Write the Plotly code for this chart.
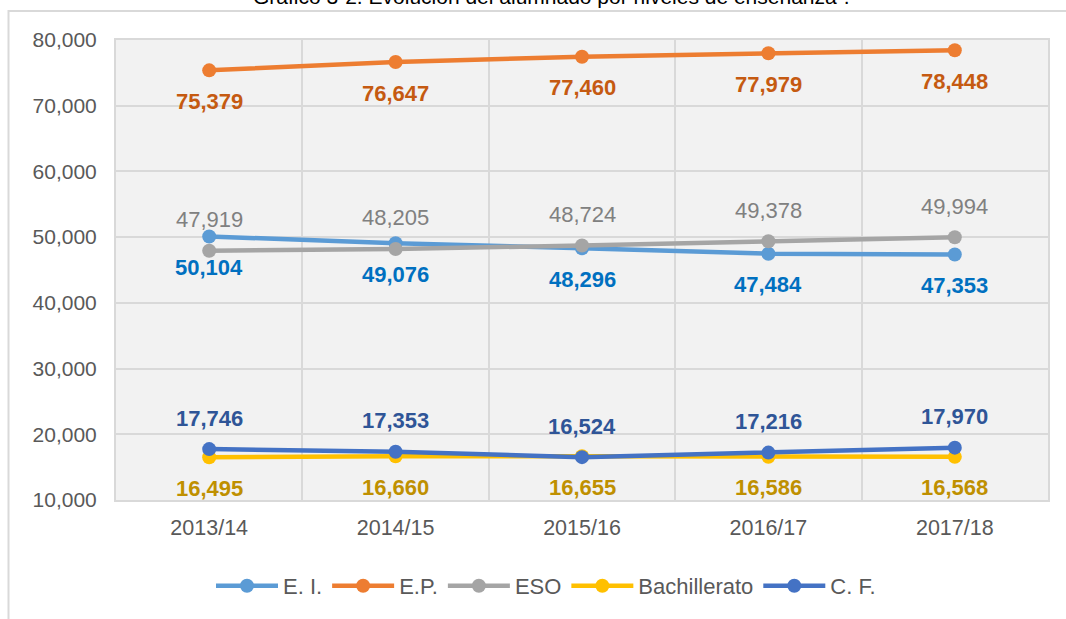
import plotly.graph_objects as go

categories = ["2013/14", "2014/15", "2015/16", "2016/17", "2017/18"]
ei = [50104, 49076, 48296, 47484, 47353]
ep = [75379, 76647, 77460, 77979, 78448]
eso = [47919, 48205, 48724, 49378, 49994]
bach = [16495, 16660, 16655, 16586, 16568]
cf = [17746, 17353, 16524, 17216, 17970]

series = [
    ("E. I.", ei, "#5B9BD5", "#0070C0", True, -31),
    ("E.P.", ep, "#ED7D31", "#C55A11", True, -31),
    ("ESO", eso, "#A5A5A5", "#808080", False, 31),
    ("Bachillerato", bach, "#FFC000", "#BF9000", True, -31),
    ("C. F.", cf, "#4472C4", "#2F5597", True, 31),
]

W, H = 1066, 619
L, R, T, B = 116, 18, 40, 119
pw, ph = W - L - R, H - T - B
FONT = "Liberation Sans, Arial"

def px(x):
    return (x - L) / pw

def py(y):
    return (H - B - y) / ph

fig = go.Figure()
annotations = []
for name, vals, lc, tc, bold, shift in series:
    fig.add_trace(go.Scatter(
        x=categories, y=vals, name=name, mode="lines+markers",
        line=dict(color=lc, width=4.5), marker=dict(size=14, color=lc),
    ))
    for c, v in zip(categories, vals):
        txt = f"{v:,}"
        if bold:
            txt = f"<b>{txt}</b>"
        annotations.append(dict(
            x=c, y=v, xref="x", yref="y", text=txt, showarrow=False,
            yshift=shift, font=dict(family=FONT, size=22, color=tc),
        ))

annotations.append(dict(
    x=px(551), y=py(-4), xref="paper", yref="paper", showarrow=False,
    text="Gráfico 3-2. Evolución del alumnado por niveles de enseñanza¹.",
    font=dict(family=FONT, size=21, color="#000000"),
    xanchor="center", yanchor="middle",
))

fig.update_layout(
    width=W, height=H,
    margin=dict(l=L, r=R, t=T, b=B),
    paper_bgcolor="white", plot_bgcolor="#F2F2F2",
    font=dict(family=FONT, size=21, color="#595959"),
    showlegend=True,
    legend=dict(orientation="h", x=px(546), xanchor="center", y=py(586), yanchor="middle",
                font=dict(family=FONT, size=22, color="#595959"), itemwidth=62,
                bgcolor="rgba(0,0,0,0)"),
    annotations=annotations,
    shapes=[dict(type="rect", xref="paper", yref="paper",
                 x0=px(8.5), x1=px(1080), y0=py(640), y1=py(11),
                 line=dict(color="#D9D9D9", width=2), fillcolor="rgba(0,0,0,0)", layer="below")],
)
fig.update_xaxes(type="category", tickson="boundaries", showgrid=True, gridcolor="#D9D9D9", gridwidth=2,
                 showline=True, linecolor="#D9D9D9", linewidth=2, mirror=True,
                 ticks="", ticklabelstandoff=7, tickfont=dict(family=FONT, size=21.5, color="#595959"),
                 range=[-0.5, 4.5])
fig.update_yaxes(range=[10000, 80000], dtick=10000, tickformat=",", showgrid=True,
                 gridcolor="#D9D9D9", gridwidth=2, showline=True, linecolor="#D9D9D9", linewidth=2,
                 mirror=True, ticks="", ticklabelstandoff=13, zeroline=False,
                 tickfont=dict(family=FONT, size=21, color="#595959"))

fig.write_html("out.html", config={"displayModeBar": False},
               post_script="document.body.style.margin='0';")
